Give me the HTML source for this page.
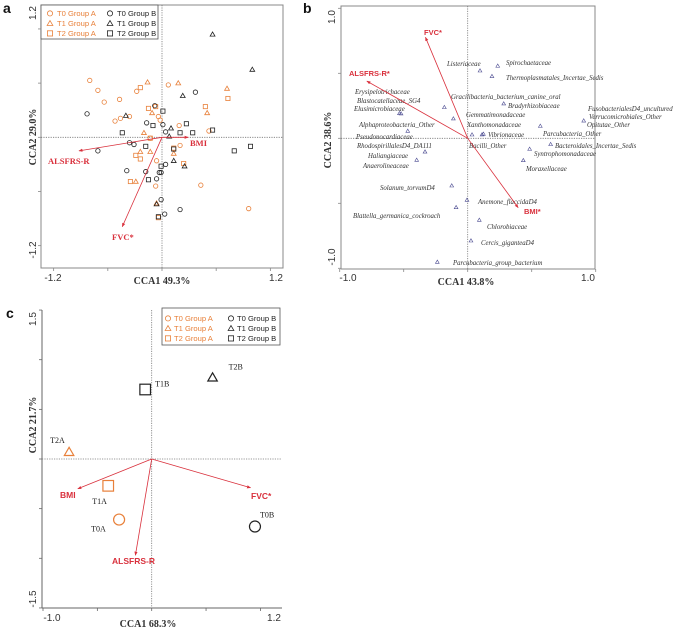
<!DOCTYPE html>
<html><head><meta charset="utf-8"><style>
html,body{margin:0;padding:0;background:#fff;}
svg{display:block;}
.tick{font-family:"Liberation Sans",sans-serif;font-size:10px;fill:#333;}
.ttl{font-family:"Liberation Serif",serif;font-weight:bold;font-size:10px;fill:#333;}
.sp{font-family:"Liberation Serif",serif;font-style:italic;font-size:6.8px;fill:#333;}
.lg{font-family:"Liberation Sans",sans-serif;font-size:7.6px;}
.var{font-family:"Liberation Sans",sans-serif;font-weight:bold;font-size:7.5px;fill:#d9303c;}
.varS{font-family:"Liberation Serif",serif;font-weight:bold;font-size:8.5px;fill:#d9303c;}
.pl{font-family:"Liberation Serif",serif;font-size:8px;fill:#222;}
.pn{font-family:"Liberation Sans",sans-serif;font-weight:bold;font-size:14px;fill:#111;}
</style></head><body>
<svg id="fig" width="685" height="627" viewBox="0 0 685 627" xmlns="http://www.w3.org/2000/svg">
<defs>
<marker id="ah" viewBox="0 0 10 10" refX="9" refY="5" markerWidth="5" markerHeight="5" orient="auto"><path d="M0,1 L10,5 L0,9 z" fill="#d9303c"/></marker>
</defs>
<g>
<text class="pn" x="3" y="13">a</text>
<rect x="41" y="5" width="242" height="263" fill="none" stroke="#888" stroke-width="1"/>
<line x1="162" y1="5" x2="162" y2="268" stroke="#777" stroke-dasharray="1.2,1.2" stroke-width="0.8"/>
<line x1="41" y1="137.3" x2="283" y2="137.3" stroke="#777" stroke-dasharray="1.2,1.2" stroke-width="0.8"/>
<text class="tick" transform="translate(36,13) rotate(-90)" text-anchor="middle">1.2</text>
<text class="tick" transform="translate(36,250) rotate(-90)" text-anchor="middle">-1.2</text>
<text class="tick" x="53" y="281" text-anchor="middle">-1.2</text>
<text class="tick" x="276" y="281" text-anchor="middle">1.2</text>
<text class="ttl" x="162" y="284" text-anchor="middle">CCA1 49.3%</text>
<text class="ttl" transform="translate(36,137) rotate(-90)" text-anchor="middle">CCA2 29.0%</text>
<g>
<rect x="41" y="5" width="117" height="34" fill="#fff" stroke="#555" stroke-width="0.8"/>
</g>
</g>
<g>
<text class="pn" x="303" y="13">b</text>
<rect x="341" y="6" width="254" height="263" fill="none" stroke="#888" stroke-width="1"/>
<line x1="467.7" y1="6" x2="467.7" y2="269" stroke="#777" stroke-dasharray="1.2,1.2" stroke-width="0.8"/>
<line x1="341" y1="138.3" x2="595" y2="138.3" stroke="#777" stroke-dasharray="1.2,1.2" stroke-width="0.8"/>
<text class="tick" transform="translate(335,17) rotate(-90)" text-anchor="middle">1.0</text>
<text class="tick" transform="translate(335,257) rotate(-90)" text-anchor="middle">-1.0</text>
<text class="tick" x="348" y="281" text-anchor="middle">-1.0</text>
<text class="tick" x="588" y="281" text-anchor="middle">1.0</text>
<text class="ttl" x="466" y="285" text-anchor="middle">CCA1 43.8%</text>
<text class="ttl" transform="translate(331,140) rotate(-90)" text-anchor="middle">CCA2 38.6%</text>
<g>
<text class="sp" x="447" y="66">Listeriaceae</text>
<text class="sp" x="506" y="65">Spirochaetaceae</text>
<text class="sp" x="506" y="80">Thermoplasmatales_Incertae_Sedis</text>
<text class="sp" x="451" y="99">Gracilibacteria_bacterium_canine_oral</text>
<text class="sp" x="508" y="108">Bradyrhizobiaceae</text>
<text class="sp" x="355" y="94">Erysipelotrichaceae</text>
<text class="sp" x="357" y="103">Blastocatellaceae_SG4</text>
<text class="sp" x="354" y="111">Elusimicrobiaceae</text>
<text class="sp" x="466" y="117">Gemmatimonadaceae</text>
<text class="sp" x="467" y="127">Xanthomonadaceae</text>
<text class="sp" x="359" y="127">Alphaproteobacteria_Other</text>
<text class="sp" x="356" y="139">Pseudonocardiaceae</text>
<text class="sp" x="488" y="137">Vibrionaceae</text>
<text class="sp" x="469" y="148">Bacilli_Other</text>
<text class="sp" x="357" y="148">RhodospirillalesD4_DA111</text>
<text class="sp" x="368" y="158">Haliangiaceae</text>
<text class="sp" x="363" y="168">Anaerolineaceae</text>
<text class="sp" x="543" y="136">Parcubacteria_Other</text>
<text class="sp" x="588" y="111">FusobacterialesD4_uncultured</text>
<text class="sp" x="589" y="119">Verrucomicrobiales_Other</text>
<text class="sp" x="587" y="127">Opitutae_Other</text>
<text class="sp" x="555" y="148">Bacteroidales_Incertae_Sedis</text>
<text class="sp" x="534" y="156">Syntrophomonadaceae</text>
<text class="sp" x="526" y="171">Moraxellaceae</text>
<text class="sp" x="380" y="190">Solanum_torvumD4</text>
<text class="sp" x="478" y="204">Anemone_flaccidaD4</text>
<text class="sp" x="353" y="218">Blattella_germanica_cockroach</text>
<text class="sp" x="487" y="229">Chlorobiaceae</text>
<text class="sp" x="481" y="245">Cercis_giganteaD4</text>
<text class="sp" x="453" y="265">Parcubacteria_group_bacterium</text>
</g>
</g>
<g>
<text class="pn" x="6" y="318">c</text>
<line x1="42" y1="310" x2="42" y2="608" stroke="#666" stroke-width="1"/>
<line x1="42" y1="608" x2="282" y2="608" stroke="#666" stroke-width="1"/>
<line x1="151.7" y1="310" x2="151.7" y2="608" stroke="#777" stroke-dasharray="1.2,1.2" stroke-width="0.8"/>
<line x1="42" y1="459" x2="282" y2="459" stroke="#777" stroke-dasharray="1.2,1.2" stroke-width="0.8"/>
<text class="tick" transform="translate(36,319) rotate(-90)" text-anchor="middle">1.5</text>
<text class="tick" transform="translate(36,599) rotate(-90)" text-anchor="middle">-1.5</text>
<text class="tick" x="52" y="621" text-anchor="middle">-1.0</text>
<text class="tick" x="274" y="621" text-anchor="middle">1.2</text>
<text class="ttl" x="148" y="627" text-anchor="middle">CCA1 68.3%</text>
<text class="ttl" transform="translate(36,425) rotate(-90)" text-anchor="middle">CCA2 21.7%</text>
<g>
<rect x="162" y="308" width="118" height="37" fill="#fff" stroke="#555" stroke-width="0.8"/>
</g>
</g>
<g id="dyn"></g>
</svg>
<script>
const aT0Ax=[-0.80,-0.71,-0.64,-0.47,-0.28,0.07,-0.52,-0.46,-0.36,-0.04,-0.02,0.19,0.20,-0.06,0.43,-0.07,0.96,0.52,-0.13];
const aT0Ay=[0.63,0.52,0.39,0.42,0.51,0.58,0.18,0.21,0.23,0.23,0.19,0.13,-0.09,-0.26,-0.53,-0.54,-0.79,0.07,-0.01];
const aT1Ax=[-0.16,0.18,0.72,0.50,-0.11,-0.20,-0.24,-0.13,0.13,-0.29,-0.06];
const aT1Ay=[0.61,0.60,0.54,0.27,0.27,0.05,-0.16,-0.16,-0.18,-0.49,-0.73];
const aT2Ax=[-0.24,-0.15,-0.07,0.48,0.73,-0.29,-0.24,-0.13,0.13,0.24,-0.35,-0.04];
const aT2Ay=[0.55,0.32,0.34,0.34,0.43,-0.20,-0.24,-0.01,-0.12,-0.29,-0.49,-0.89];
const aT0Bx=[-0.83,-0.71,-0.08,-0.17,0.04,0.01,-0.36,-0.31,0.37,-0.39,-0.18,-0.03,-0.01,0.04,-0.06,-0.01,0.03,0.20];
const aT0By=[0.26,-0.15,0.35,0.16,0.06,0.14,-0.06,-0.08,0.50,-0.37,-0.38,-0.39,-0.39,-0.30,-0.46,-0.69,-0.85,-0.80];
const aT1Bx=[0.56,1.00,0.23,-0.40,0.10,0.08,0.13,0.25,-0.06];
const aT1By=[1.14,0.75,0.46,0.24,0.10,0.01,-0.26,-0.32,-0.74];
const aT2Bx=[-0.44,-0.10,0.01,0.27,0.20,0.34,0.56,-0.18,0.13,-0.01,-0.15,0.80,0.98,-0.04];
const aT2By=[0.05,0.13,0.29,0.15,0.05,0.05,0.08,-0.10,-0.13,-0.32,-0.47,-0.15,-0.10,-0.88];
const aVarNames=["BMI","ALSFRS-R","FVC*"];
const aVarX=[0.29,-0.92,-0.44];
const aVarY=[0.0,-0.15,-0.99];
const aTicks=[-1.2,-0.6,0,0.6,1.2];
const bX=[0.105,0.256,0.207,0.307,-0.199,-0.582,-0.568,-0.122,-0.511,0.037,0.122,0.134,-0.364,-0.435,0.619,0.989,0.707,0.528,0.474,-0.136,-0.006,-0.099,0.099,0.028,-0.259];
const bY=[0.556,0.595,0.510,0.285,0.255,0.205,0.203,0.162,0.060,0.030,0.030,0.036,-0.110,-0.178,0.101,0.145,-0.049,-0.088,-0.181,-0.389,-0.507,-0.567,-0.671,-0.841,-1.016];
const bVarNames=["FVC*","ALSFRS-R*","BMI*"];
const bVarX=[-0.36,-0.86,0.43];
const bVarY=[0.83,0.47,-0.57];
const bTicks=[-1,-0.5,0,0.5,1];
const cNames=["T0A","T1A","T2A","T0B","T1B","T2B"];
const cX=[-0.30,-0.40,-0.76,0.95,-0.06,0.56];
const cY=[-0.61,-0.27,0.07,-0.68,0.70,0.82];
const cVarNames=["BMI","FVC*","ALSFRS-R"];
const cVarX=[-0.68,0.91,-0.15];
const cVarY=[-0.30,-0.29,-0.97];
const cTicksX=[-1,-0.5,0,0.5,1];
const cTicksY=[-1.5,-1,-0.5,0,0.5,1,1.5];

const NS="http://www.w3.org/2000/svg";
const dyn=document.getElementById('dyn');
const ORANGE="#e8803a", BLACK="#222";
function mk(tag,attrs){const e=document.createElementNS(NS,tag);for(const k in attrs)e.setAttribute(k,attrs[k]);dyn.appendChild(e);return e;}

const xa=v=>162+v*90.3, ya=v=>137.3-v*90.3;
const xb=v=>467.7+v*117.3, yb=v=>138.3-v*121.7;
const xbt=v=>467.7+v*128, ybt=v=>138.3-v*130;
const xc=v=>151.7+v*108.7, yc=v=>459-v*99.3;

function marker(shape,cx,cy,s,color,sw){
  let e;
  if(shape==='circle'){e=mk('circle',{cx:cx,cy:cy,r:s,fill:'none',stroke:color,'stroke-width':sw});}
  else if(shape==='square'){e=mk('rect',{x:cx-s,y:cy-s,width:2*s,height:2*s,fill:'none',stroke:color,'stroke-width':sw});}
  else {e=mk('path',{d:`M${cx},${cy-s*1.1} L${cx+s*1.1},${cy+s*0.8} L${cx-s*1.1},${cy+s*0.8} Z`,fill:'none',stroke:color,'stroke-width':sw});}
  return e;
}
function arrow(x0,y0,x1,y1){
  return mk('line',{x1:x0,y1:y0,x2:x1,y2:y1,stroke:'#d9303c','stroke-width':0.8,'marker-end':'url(#ah)'});
}

aTicks.forEach(t=>{
  const e1=mk('line',{x1:41,y1:ya(t),x2:38,y2:ya(t),stroke:'#888','stroke-width':0.8});
  
  
  const e2=mk('line',{x1:xa(t),y1:268,x2:xa(t),y2:271,stroke:'#888','stroke-width':0.8});
  
  
});
const aSeries=[
  [aT0Ax,aT0Ay,'circle',ORANGE,'t0-group-a'],[aT1Ax,aT1Ay,'tri',ORANGE,'t1-group-a'],[aT2Ax,aT2Ay,'square',ORANGE,'t2-group-a'],
  [aT0Bx,aT0By,'circle',BLACK,'t0-group-b'],[aT1Bx,aT1By,'tri',BLACK,'t1-group-b'],[aT2Bx,aT2By,'square',BLACK,'t2-group-b']];
aSeries.forEach(s=>{
  s[0].forEach((v,i)=>{
    const e=marker(s[2],xa(v),ya(s[1][i]),s[2]==='square'?2.1:2.2,s[3],0.8);
    
    
  });
});
aVarNames.forEach((n,i)=>{
  const e=arrow(xa(0),ya(0),xa(aVarX[i]),ya(aVarY[i]));
  
  
});
[[190,146,'start'],[48,164,'start'],[112,240,'start']].forEach((p,i)=>{
  const t=mk('text',{x:p[0],y:p[1],'text-anchor':p[2],class:'varS'});t.textContent=aVarNames[i];
  
  
});
function legend(prefix,x0,x1,rows,dx){
  const shapes=['circle','tri','square'];
  const labs=['T0','T1','T2'];
  rows.forEach((y,i)=>{
    let m=marker(shapes[i],x0,y-2.6,2.6,ORANGE,0.8);
    
    
    let t=mk('text',{x:x0+dx,y:y,class:'lg',fill:ORANGE});t.textContent=labs[i]+' Group A';
    
    
    m=marker(shapes[i],x1,y-2.6,2.6,BLACK,0.8);
    
    
    t=mk('text',{x:x1+dx,y:y,class:'lg',fill:BLACK});t.textContent=labs[i]+' Group B';
    
    
  });
}
legend('panel-a',50,110,[16,26,36],7);
legend('panel-c',168,231,[321,331,341],6);

bTicks.forEach(t=>{
  const e1=mk('line',{x1:341,y1:ybt(t),x2:338,y2:ybt(t),stroke:'#888','stroke-width':0.8});
  
  
  const e2=mk('line',{x1:xbt(t),y1:269,x2:xbt(t),y2:272,stroke:'#888','stroke-width':0.8});
  
  
});
bX.forEach((v,i)=>{
  const e=marker('tri',xb(v),yb(bY[i]),1.7,'#4a4a90',0.6);
  
  
});
bVarNames.forEach((n,i)=>{
  const e=arrow(xb(0),yb(0),xb(bVarX[i]),yb(bVarY[i]));
  
  
});
[[424,35],[349,76],[524,214]].forEach((p,i)=>{
  const t=mk('text',{x:p[0],y:p[1],class:'var'});t.textContent=bVarNames[i];
  
  
});

cTicksY.forEach(t=>{
  const e=mk('line',{x1:42,y1:yc(t),x2:39,y2:yc(t),stroke:'#666','stroke-width':0.8});
  
  
});
cTicksX.forEach(t=>{
  const e=mk('line',{x1:xc(t),y1:608,x2:xc(t),y2:611,stroke:'#666','stroke-width':0.8});
  
  
});
const cShapes=['circle','square','tri','circle','square','tri'];
const cCols=[ORANGE,ORANGE,ORANGE,BLACK,BLACK,BLACK];
const cLabOff=[[-28,12],[-16,18],[-19,-9],[5,-9],[10,-3],[16,-8]];
cNames.forEach((n,i)=>{
  const px=xc(cX[i]), py=yc(cY[i]);
  const e=marker(cShapes[i],px,py,cShapes[i]==='square'?5.3:(cShapes[i]==='tri'?4.3:5.5),cCols[i],1.2);
  
  
  const t=mk('text',{x:px+cLabOff[i][0],y:py+cLabOff[i][1],class:'pl'});t.textContent=n;
  
  
});
cVarNames.forEach((n,i)=>{
  const e=arrow(xc(0),yc(0),xc(cVarX[i]),yc(cVarY[i]));
  
  
});
[[60,498],[251,499],[112,564]].forEach((p,i)=>{
  const t=mk('text',{x:p[0],y:p[1],class:'var',style:'font-size:8.5px'});t.textContent=cVarNames[i];
  
  
});
</script>
</body></html>
